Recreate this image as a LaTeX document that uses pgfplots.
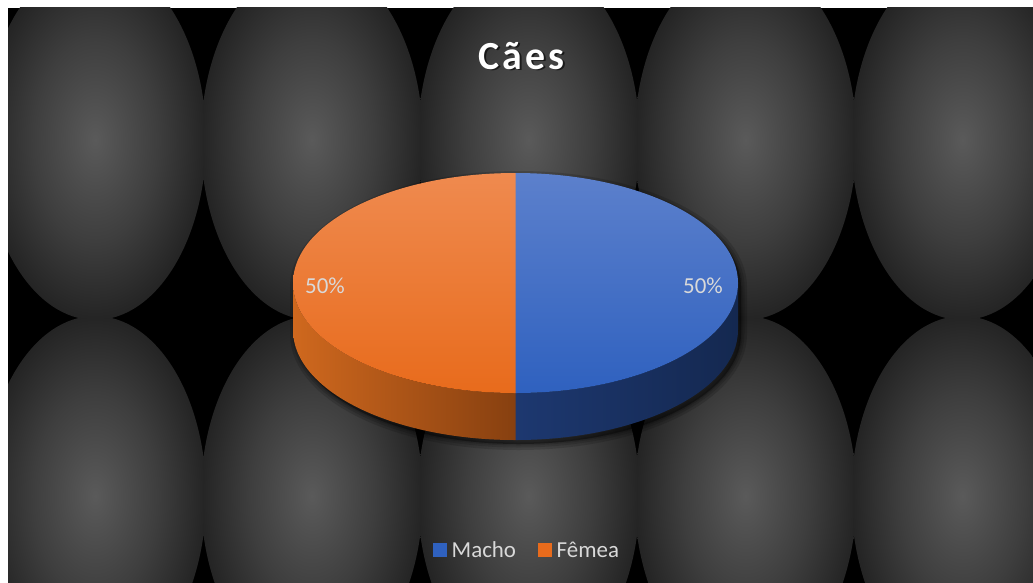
\documentclass[border=0pt]{standalone}
\usepackage{pgfplots}
\pgfplotsset{compat=1.18}
\usepackage{pgfplotstable}
\usepackage{fontspec}
\setmainfont{Carlito}
\definecolor{tilein}{RGB}{90,90,90}
\definecolor{tilemid}{RGB}{62,62,62}
\definecolor{tileout}{RGB}{36,36,36}
\pgfdeclareradialshading{tile}{\pgfpoint{0bp}{0bp}}{color(0bp)=(tilein); color(14bp)=(tilemid); color(25bp)=(tileout); color(50bp)=(tileout)}
\definecolor{bluetop}{RGB}{92,128,204}
\definecolor{bluebot}{RGB}{47,97,191}
\definecolor{orangetop}{RGB}{239,138,79}
\definecolor{orangebot}{RGB}{232,107,28}
\definecolor{blueside1}{RGB}{29,56,112}
\definecolor{blueside2}{RGB}{20,40,80}
\definecolor{orangeside1}{RGB}{207,104,30}
\definecolor{orangeside2}{RGB}{135,64,16}
\definecolor{lbl}{RGB}{217,217,217}

\pgfplotstableread{
label value
Macho 50
Femea 50
}\piedata

\begin{document}
\begin{tikzpicture}
\pgfplotstablegetelem{0}{value}\of\piedata \let\va\pgfplotsretval
\pgfplotstablegetelem{1}{value}\of\piedata \let\vb\pgfplotsretval
\pgfmathsetmacro{\tot}{\va+\vb}
\pgfmathsetmacro{\fa}{\va/\tot}
\pgfmathsetmacro{\fb}{\vb/\tot}
\pgfmathsetmacro{\pa}{100*\fa}
\pgfmathsetmacro{\pb}{100*\fb}
\pgfmathsetmacro{\splitang}{90-360*\fa}
\pgfmathsetmacro{\endang}{\splitang-360*\fb}

% background
\begin{scope}[x=1bp,y=-1bp]
\fill[white] (0,0) rectangle (1033,583);
\fill[black] (8,8) rectangle (1033,583);
\clip (8,8) rectangle (1033,583);
\foreach \i in {0,...,4} {
 \foreach \j in {0,1} {
  \pgfmathsetmacro{\cx}{95.1+216.8*\i}
  \pgfmathsetmacro{\cy}{140+356*\j}
  \begin{scope}
   \clip (\cx-108.4,\cy-178) rectangle (\cx+108.4,\cy+178);
   \shade[shading=tile] (\cx,\cy) ellipse [x radius=111, y radius=180];
  \end{scope}
 }
}
\end{scope}

\begin{axis}[at={(0,-583bp)}, anchor=south west, width=1033bp, height=583bp,
  scale only axis, xmin=0, xmax=1033, ymin=0, ymax=583, y dir=reverse,
  axis lines=none, clip=false]
% shadow
\foreach \w in {12,7,3} {
 \edef\tmp{\noexpand\filldraw[black, opacity=0.14, line width=\w bp, xshift=3bp, yshift=-4bp]
  (axis cs:293,283) arc[start angle=180,end angle=0,x radius=222.5bp,y radius=110bp]
  -- ++(0bp,-47bp) arc[start angle=0,end angle=-180,x radius=222.5bp,y radius=110bp] -- cycle;}
 \tmp
}
% sides
\shade[left color=blueside1, right color=blueside2]
  (axis cs:738,283) arc[start angle=0,end angle=-90,x radius=222.5bp,y radius=110bp]
  -- ++(0bp,-47bp) arc[start angle=-90,end angle=0,x radius=222.5bp,y radius=110bp] -- cycle;
\shade[left color=orangeside1, right color=orangeside2]
  (axis cs:293,283) arc[start angle=180,end angle=270,x radius=222.5bp,y radius=110bp]
  -- ++(0bp,-47bp) arc[start angle=270,end angle=180,x radius=222.5bp,y radius=110bp] -- cycle;
% top faces
\shade[top color=bluetop, bottom color=bluebot]
  (axis cs:515.5,283) -- (axis cs:515.5,173)
  arc[start angle=90,end angle=\splitang,x radius=222.5bp,y radius=110bp] -- cycle;
\shade[top color=orangetop, bottom color=orangebot]
  (axis cs:515.5,283) -- (axis cs:515.5,393)
  arc[start angle=\splitang,end angle=\endang,x radius=222.5bp,y radius=110bp] -- cycle;
% data labels
\node[anchor=base, text=lbl, font=\fontsize{23}{27}\selectfont, inner sep=0pt]
  at (axis cs:703,293) {\pgfmathprintnumber[fixed,precision=0,assume math mode=true]{\pa}\%};
\node[anchor=base, text=lbl, font=\fontsize{23}{27}\selectfont, inner sep=0pt]
  at (axis cs:325,293) {\pgfmathprintnumber[fixed,precision=0,assume math mode=true]{\pb}\%};
% title
\node[anchor=base, text=black, opacity=0.6, font=\fontsize{40}{44}\selectfont\bfseries\addfontfeatures{LetterSpace=8}, inner sep=0pt]
  at (axis cs:523.5,70.5) {Cães};
\node[anchor=base, text=white, font=\fontsize{40}{44}\selectfont\bfseries\addfontfeatures{LetterSpace=8}, inner sep=0pt]
  at (axis cs:521.5,69) {Cães};
% legend
\fill[bluebot] (axis cs:433,543) rectangle (axis cs:447,557);
\node[anchor=base west, text=lbl, font=\fontsize{23}{27}\selectfont, inner sep=0pt]
  at (axis cs:451.5,557) {Macho};
\fill[orangebot] (axis cs:538,543) rectangle (axis cs:552,557);
\node[anchor=base west, text=lbl, font=\fontsize{23}{27}\selectfont, inner sep=0pt]
  at (axis cs:556.5,557) {Fêmea};
\end{axis}
\end{tikzpicture}
\end{document}
